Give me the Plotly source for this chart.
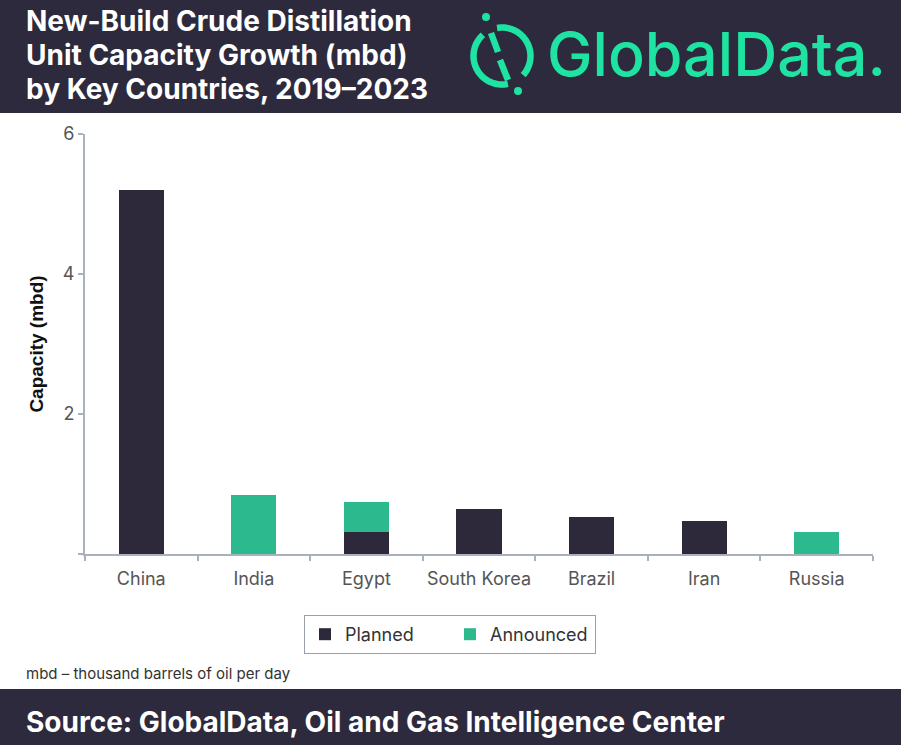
import numpy as np
import plotly.graph_objects as go

countries = ["China", "India", "Egypt", "South Korea", "Brazil", "Iran", "Russia"]
planned = [5.2, 0, 0.32, 0.64, 0.53, 0.47, 0]
announced = [0, 0.85, 0.43, 0, 0, 0, 0.32]
y_ticks = [0, 2, 4, 6]
y_tick_text = ["", "2", "4", "6"]

DARK = "#2d293b"
GREEN = "#2cb98e"
LOGO_GREEN = "#1fe3a3"
HEADER = "#2e2a3d"
AXIS = "#a9b1be"
FONT = "Inter"

W, H = 901, 745
L, R, T, B = 85, 28, 134, 191
PW, PH = W - L - R, H - T - B


def px(x):
    return (x - L) / PW


def py(y):
    return (H - B - y) / PH


fig = go.Figure()
fig.add_trace(go.Bar(x=countries, y=planned, name="Planned", marker_color=DARK,
                     marker_line_width=0, width=0.4))
fig.add_trace(go.Bar(x=countries, y=announced, name="Announced", marker_color=GREEN,
                     marker_line_width=0, width=0.4))

shapes = []
# header and footer bands
shapes.append(dict(type="rect", xref="paper", yref="paper", x0=px(0), x1=px(W), y0=py(0), y1=py(113),
                   fillcolor=HEADER, line_width=0, layer="below"))
shapes.append(dict(type="rect", xref="paper", yref="paper", x0=px(0), x1=px(W), y0=py(689), y1=py(H),
                   fillcolor=HEADER, line_width=0, layer="below"))


# logo icon
def arc_path(cx, cy, r, a0, a1, n=40):
    angs = np.radians(np.linspace(a0, a1, n))
    pts = [(px(cx + r * np.cos(a)), py(cy - r * np.sin(a))) for a in angs]
    return "M " + " L ".join(f"{x:.5f},{y:.5f}" for x, y in pts)


cx, cy, rr = 502, 56, 28.5
for a0, a1 in [(132, 282), (100, -42)]:
    shapes.append(dict(type="path", xref="paper", yref="paper", path=arc_path(cx, cy, rr, a0, a1),
                       line=dict(color=LOGO_GREEN, width=6.5)))
for (x0, y0, x1, y1) in [(491, 33, 498, 52), (500, 60, 508, 80)]:
    shapes.append(dict(type="line", xref="paper", yref="paper", x0=px(x0), y0=py(y0), x1=px(x1), y1=py(y1),
                       line=dict(color=LOGO_GREEN, width=6.5)))
for (dx, dy) in [(486, 17), (518, 91)]:
    shapes.append(dict(type="circle", xref="paper", yref="paper", x0=px(dx - 4), x1=px(dx + 4),
                       y0=py(dy - 4), y1=py(dy + 4), fillcolor=LOGO_GREEN, line_width=0))

annotations = []
for i, line in enumerate(["New-Build Crude Distillation", "Unit Capacity Growth (mbd)",
                          "by Key Countries, 2019\u20132023"]):
    annotations.append(dict(text=line, xref="paper", yref="paper", x=px(24), y=py(21 + 34 * i),
                            xanchor="left", yanchor="middle", showarrow=False,
                            font=dict(family=FONT, size=28, color="white", weight=700)))
annotations.append(dict(text="GlobalData.", xref="paper", yref="paper", x=px(545), y=py(54),
                        xanchor="left", yanchor="middle", showarrow=False,
                        font=dict(family=FONT, size=61, color=LOGO_GREEN, weight=500)))
annotations.append(dict(text="mbd \u2013 thousand barrels of oil per day", xref="paper", yref="paper",
                        x=px(24), y=py(673), xanchor="left", yanchor="middle", showarrow=False,
                        font=dict(family=FONT, size=15, color="#333333")))
annotations.append(dict(text="Source: GlobalData, Oil and Gas Intelligence Center", xref="paper",
                        yref="paper", x=px(24), y=py(722), xanchor="left", yanchor="middle", showarrow=False,
                        font=dict(family=FONT, size=28, color="white", weight=700)))

fig.update_layout(
    width=W, height=H,
    margin=dict(l=L, r=R, t=T, b=B),
    paper_bgcolor="white", plot_bgcolor="white",
    barmode="stack",
    showlegend=True,
    legend=dict(orientation="h", xanchor="center", yanchor="top", x=px(450), y=py(615),
                bordercolor="#9aa0aa", borderwidth=1, font=dict(family=FONT, size=18, color="#333333"),
                traceorder="normal", entrywidth=100, itemwidth=30),
    xaxis=dict(type="category", range=[-0.5, 6.5], showline=True, linecolor=AXIS, linewidth=2,
               ticks="outside", tickson="boundaries", ticklen=5, tickcolor=AXIS, tickwidth=2,
               ticklabelstandoff=7, tickangle=0,
               showgrid=False, tickfont=dict(family=FONT, size=18, color="#555555")),
    yaxis=dict(range=[0, 6], tickvals=y_ticks, ticktext=y_tick_text, showline=True, linecolor=AXIS,
               linewidth=2, ticks="outside", ticklen=5, tickcolor=AXIS, tickwidth=2, showgrid=False,
               zeroline=False, tickfont=dict(family=FONT, size=18, color="#555555"),
               title=dict(text="<b>Capacity (mbd)</b>", font=dict(family="Liberation Sans", size=19, color="#111111"),
                          standoff=14)),
    shapes=shapes,
    annotations=annotations,
)

fig.write_html("out.html", config={"displayModeBar": False},
               post_script="document.body.style.margin='0px';")
